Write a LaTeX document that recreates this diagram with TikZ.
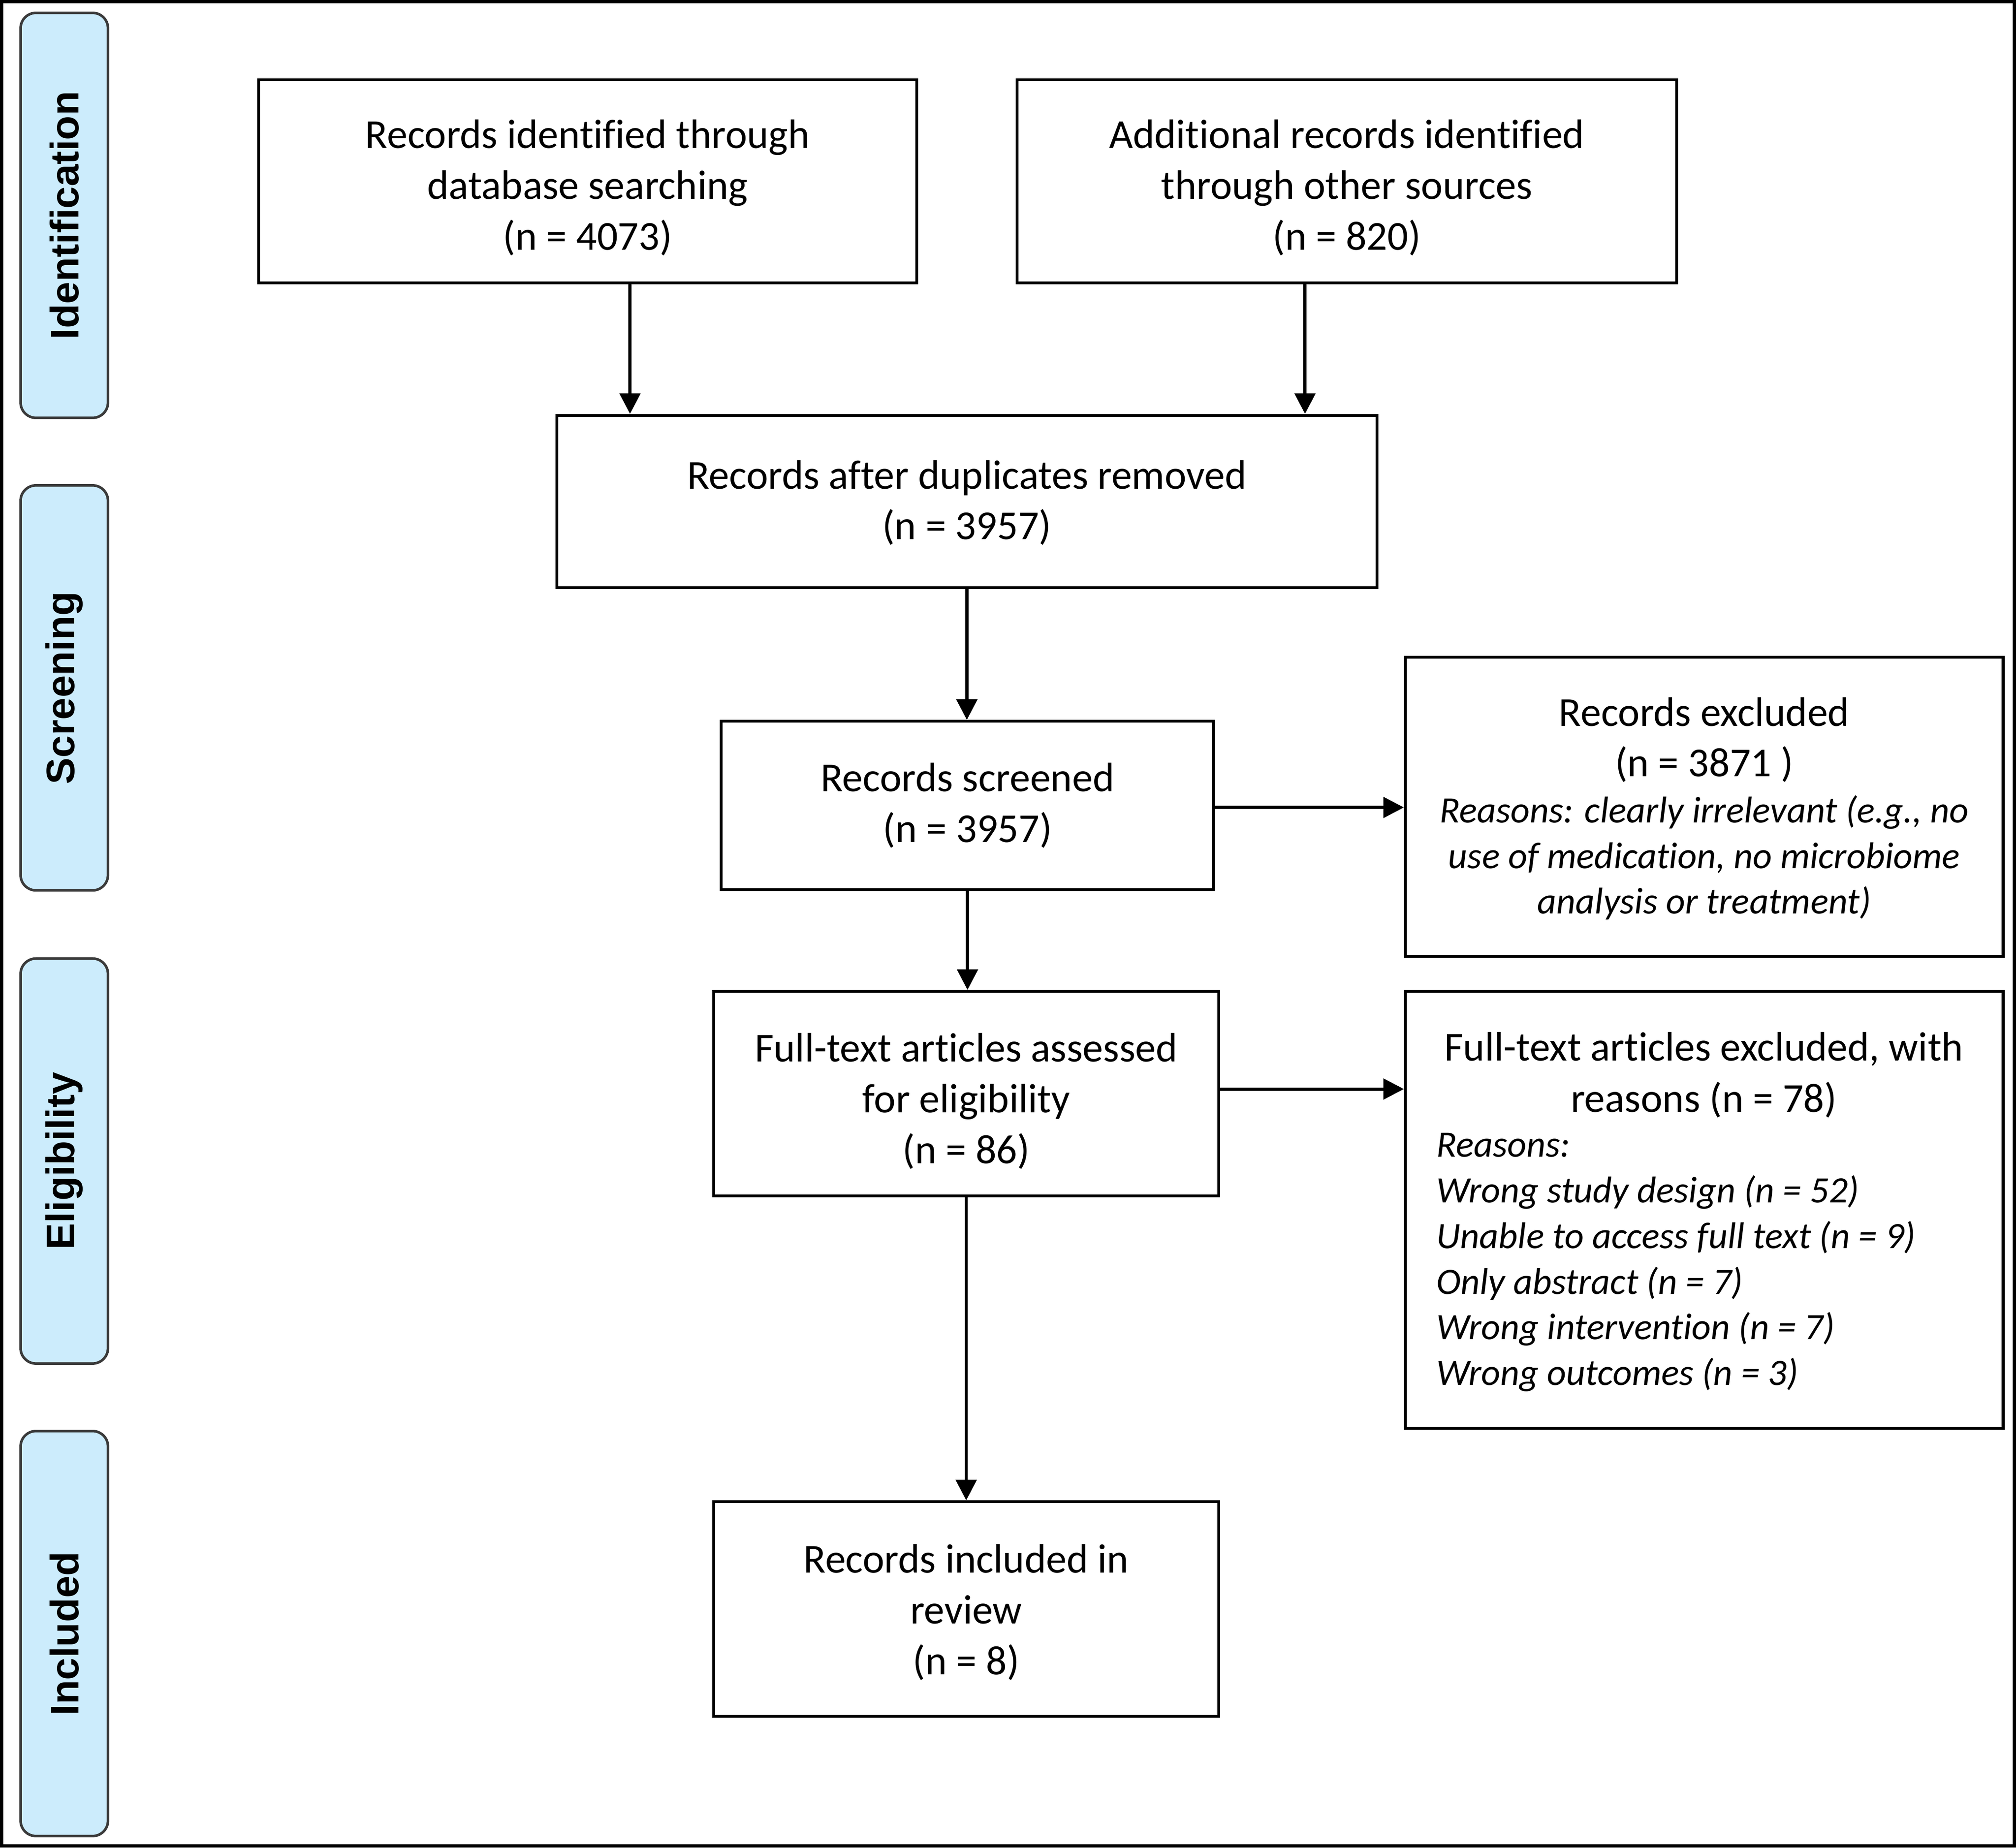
\documentclass[tikz,border=0pt]{standalone}
\usepackage{fontspec}
\setmainfont{Carlito}[Ligatures=NoCommon]
\newfontfamily\sidefont{Liberation Sans}
\usetikzlibrary{arrows.meta}
\definecolor{sidefill}{RGB}{204,236,252}
\definecolor{sideline}{RGB}{58,58,58}
\newcommand{\upf}{\fontsize{32}{35.5}\selectfont\upshape}
\newcommand{\itf}{\fontsize{29}{35.5}\selectfont\itshape}
\begin{document}
\begin{tikzpicture}[x=1pt,y=-1pt,
  flowbox/.style={draw=black, line width=2.2pt, inner sep=0pt},
  txt/.style={inner sep=0pt, align=center, font=\fontsize{32}{39.5}\selectfont},
  side/.style={draw=sideline, fill=sidefill, line width=2pt, rounded corners=12pt,
     rotate=90, minimum width=315pt, minimum height=68pt, inner sep=0pt,
     font=\sidefont\bfseries\fontsize{31}{36}\selectfont},
  arr/.style={-{Triangle[length=16pt,width=16pt]}, line width=2.5pt, black}]
\useasboundingbox (0,0) rectangle (1568,1437);
\draw[line width=2.5pt] (1.25,1.25) rectangle (1566.75,1435.75);
% side labels
\node[side] (sid) at (50,167.5) {Identification};
\node[side] (sscr) at (50,535) {Screening};
\node[side] (selig) at (50,903) {Eligibility};
\node[side] (sinc) at (50,1270.5) {Included};
% boxes
\node[flowbox, minimum width=512pt, minimum height=158pt] (db) at (457,141) {};
\node[txt] (dbt) at ([yshift=-5pt]db.center)
  {Records identified through\\ database searching\\ (n = 4073)};
\node[flowbox, minimum width=513pt, minimum height=158pt] (oth) at (1047.5,141) {};
\node[txt] (otht) at ([yshift=-5pt]oth.center)
  {Additional records identified\\ through other sources\\ (n = 820)};
\node[flowbox, minimum width=638pt, minimum height=134pt] (dup) at (752,390) {};
\node[txt] (dupt) at ([yshift=-1pt]dup.center)
  {Records after duplicates removed\\ (n = 3957)};
\node[flowbox, minimum width=383pt, minimum height=131pt] (scr) at (752.5,626.5) {};
\node[txt] (scrt) at (scr.center)
  {Records screened\\ (n = 3957)};
\node[flowbox, minimum width=465pt, minimum height=233pt] (excl) at (1325.5,627.5) {};
\node[txt, font=\itf] (exclt) at ([yshift=-1.5pt]excl.center)
  {\upf Records excluded\\[3.5pt]
   \upf (n = 3871 )\\[0.5pt]
   \itf Reasons: clearly irrelevant (e.g., no\\
   \itf use of medication, no microbiome\\
   \itf analysis or treatment)};
\node[flowbox, minimum width=465pt, minimum height=340pt] (ftex) at (1325.5,941) {};
\node[txt, align=left, anchor=west, font=\itf] (ftext) at (1117,942.5)
  {\upf\makebox[416pt][c]{Full-text articles excluded, with}\\[4.5pt]
   \upf\makebox[416pt][c]{reasons (n = 78)}\\[-0.5pt]
   \itf Reasons:\\
   \itf Wrong study design (n = 52)\\
   \itf Unable to access full text (n = 9)\\
   \itf Only abstract (n = 7)\\
   \itf Wrong intervention (n = 7)\\
   \itf Wrong outcomes (n = 3)};
\node[flowbox, minimum width=393pt, minimum height=159pt] (ft) at (751.5,850.5) {};
\node[txt] (ftt) at ([yshift=-6pt]ft.center)
  {Full-text articles assessed\\ for eligibility\\ (n = 86)};
\node[flowbox, minimum width=393pt, minimum height=167pt] (inc) at (751.5,1251.5) {};
\node[txt] (inct) at ([yshift=-2.5pt]inc.center)
  {Records included in\\ review\\ (n = 8)};
% connectors
\draw[arr] ([xshift=33pt]db.south) -- ([xshift=33pt]db.south |- dup.north);
\draw[arr] ([xshift=-32.5pt]oth.south) -- ([xshift=-32.5pt]oth.south |- dup.north);
\draw[arr] (dup.south) -- (dup.south |- scr.north);
\draw[arr] ([yshift=-1.5pt]scr.east) -- ([yshift=-1.5pt]scr.east -| excl.west);
\draw[arr] (scr.south) -- (scr.south |- ft.north);
\draw[arr] ([yshift=3.5pt]ft.east) -- ([yshift=3.5pt]ft.east -| ftex.west);
\draw[arr] (ft.south) -- (ft.south |- inc.north);
\end{tikzpicture}
\end{document}
